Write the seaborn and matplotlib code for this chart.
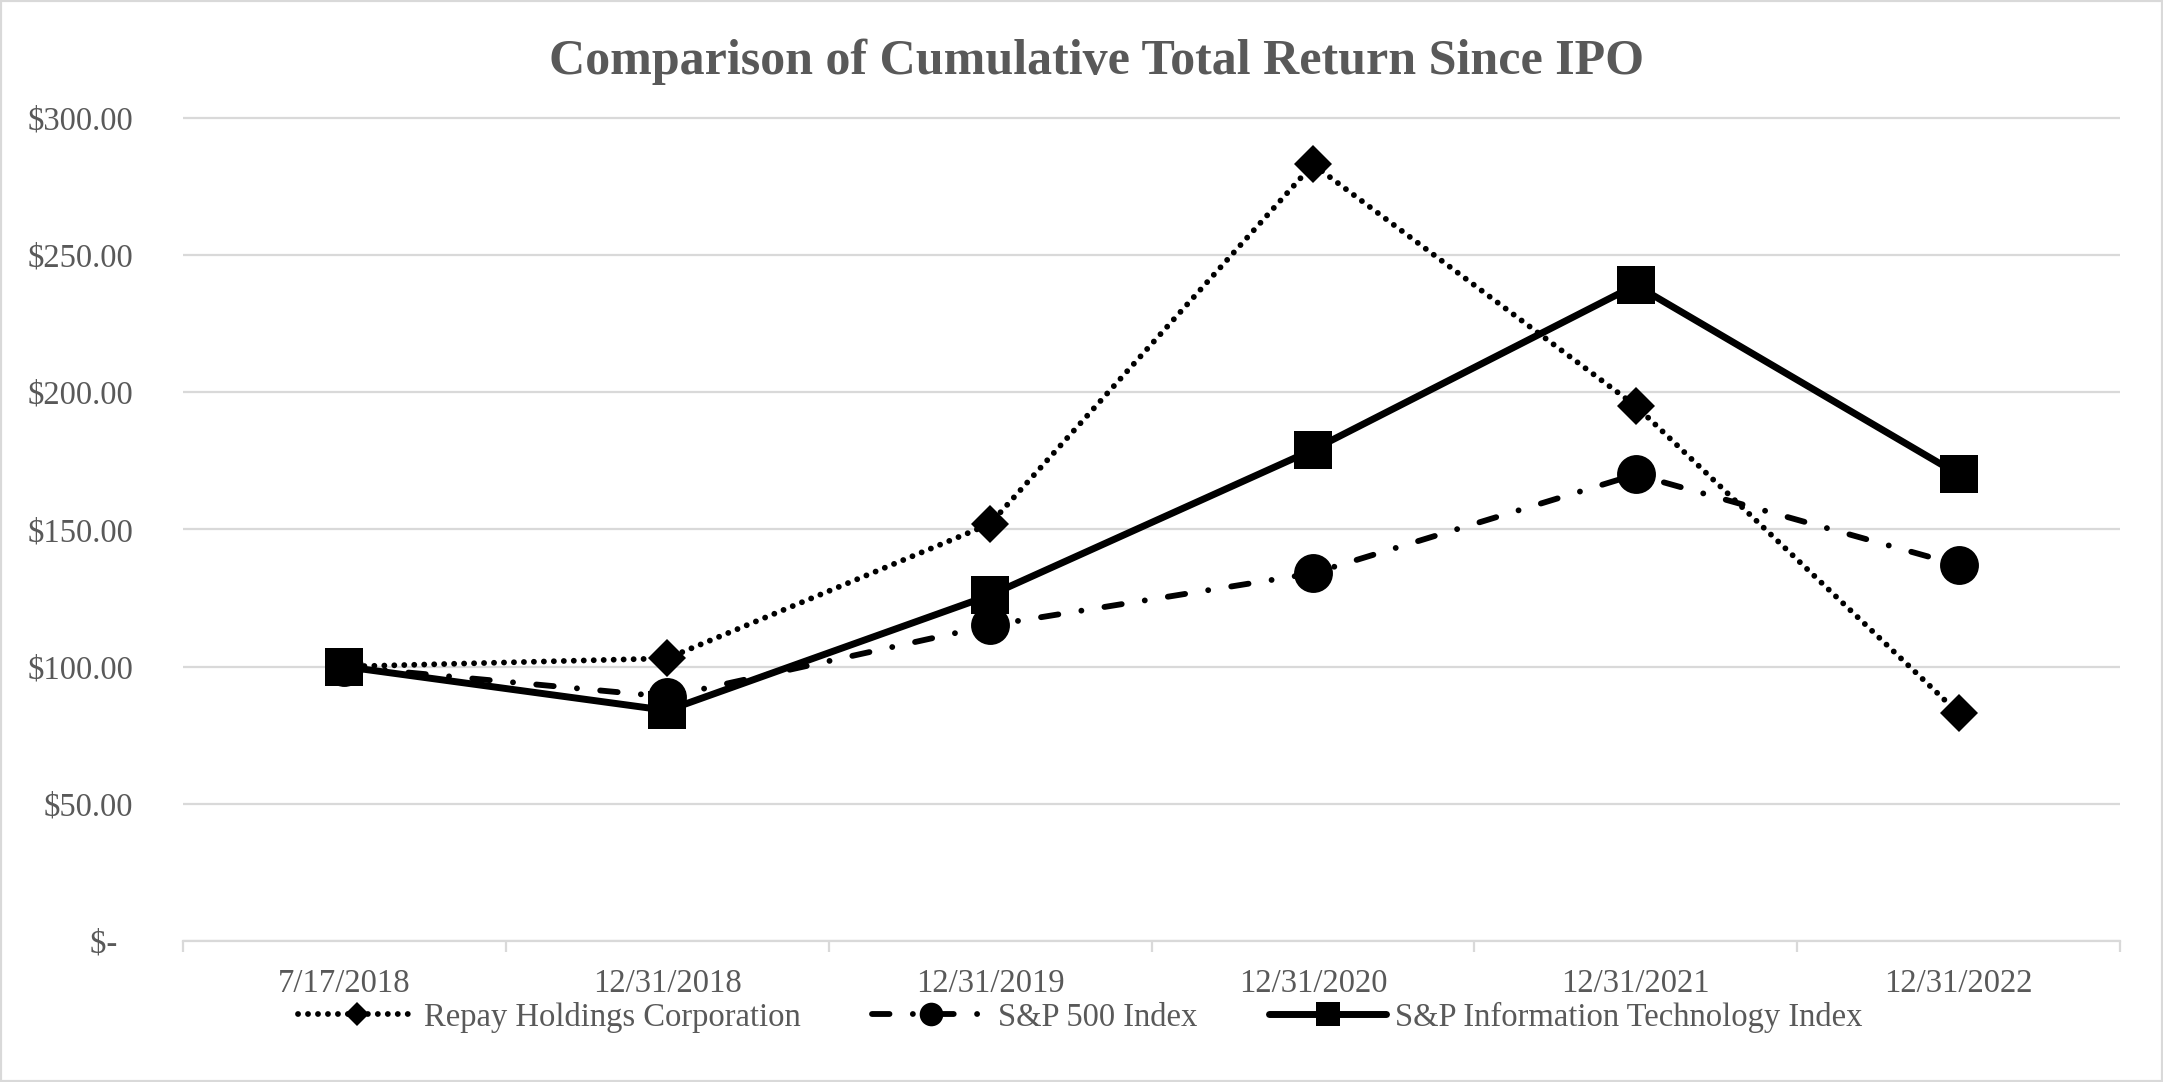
import matplotlib
matplotlib.use("Agg")
import matplotlib.pyplot as plt
import seaborn as sns
import pandas as pd
from matplotlib.lines import Line2D
from matplotlib.patches import Rectangle

# ---------------- data ----------------
dates = ["7/17/2018", "12/31/2018", "12/31/2019", "12/31/2020", "12/31/2021", "12/31/2022"]
repay = [100, 103, 152, 283, 195, 83]
sp500 = [100, 89, 115, 134, 170, 137]
sp_it = [100, 84, 126, 179, 239, 170]
series_names = ["Repay Holdings Corporation", "S&P 500 Index", "S&P Information Technology Index"]
y_ticks = [0, 50, 100, 150, 200, 250, 300]
y_tick_labels = ["$-  ", "$50.00", "$100.00", "$150.00", "$200.00", "$250.00", "$300.00"]
title = "Comparison of Cumulative Total Return Since IPO"

df = pd.DataFrame({
    "date": dates * 3,
    "value": repay + sp500 + sp_it,
    "series": [n for n in series_names for _ in dates],
})

# ---------------- style ----------------
sns.set_theme(style="white")
plt.rcParams["font.family"] = ["Liberation Serif", "DejaVu Serif"]
GRAY = "#595959"
GRID = "#d9d9d9"

W, H = 2163, 1082
fig = plt.figure(figsize=(W / 100, H / 100), dpi=100)
left, right, top, bottom = 183, 2120, 115, 941
ax = fig.add_axes([left / W, 1 - bottom / H, (right - left) / W, (bottom - top) / H])

styles = [
    dict(marker="D", ms=19, ls=(0, (0.01, 1.7)), lw=4.2, cap="round"),
    dict(marker="o", ms=28, ls=(0, (3.0, 4.0, 0.01, 4.0)), lw=4.2, cap="round"),
    dict(marker="s", ms=28, ls="-", lw=5, cap="butt"),
]

for name, st in zip(series_names, styles):
    sub = df[df["series"] == name]
    sns.lineplot(data=sub, x="date", y="value", ax=ax, color="black", sort=False,
                 legend=False, marker=st["marker"], markersize=st["ms"],
                 markeredgewidth=0, linewidth=st["lw"])
    ln = ax.lines[-1]
    ln.set_linestyle(st["ls"])
    ln.set_dash_capstyle(st["cap"])
    ln.set_solid_capstyle("butt")

ax.set_xlim(-0.5, len(dates) - 0.5)
ax.set_ylim(0, 301)
ax.set_yticks(y_ticks)
ax.set_yticklabels(y_tick_labels)
ax.set_xticks(range(len(dates)))
ax.set_xticklabels(dates)
ax.set_xticks([i - 0.5 for i in range(len(dates) + 1)], minor=True)
ax.set_xlabel("")
ax.set_ylabel("")

ax.yaxis.grid(True, color=GRID, lw=1.6)
ax.xaxis.grid(False)
for s in ["left", "top", "right"]:
    ax.spines[s].set_visible(False)
ax.spines["bottom"].set_color(GRID)
ax.spines["bottom"].set_linewidth(1.6)

ax.tick_params(axis="y", length=0, pad=36, labelsize=23.5, labelcolor=GRAY)
ax.tick_params(axis="x", which="major", length=0, pad=20, labelsize=23.5, labelcolor=GRAY)
ax.tick_params(axis="x", which="minor", length=8, width=1.6, color=GRID, bottom=True)

fig.text(1097 / W, 1 - 62 / H, title, ha="center", va="center", fontsize=36,
         fontweight="bold", color=GRAY)

handles = []
leg_ms = [12, 17, 17]
for st, ms in zip(styles, leg_ms):
    h = Line2D([0], [0], color="black", marker=st["marker"], markersize=ms,
               markeredgewidth=0, linewidth=st["lw"], linestyle=st["ls"],
               dash_capstyle=st["cap"])
    handles.append(h)
leg = fig.legend(handles, series_names, loc="center", bbox_to_anchor=(1080 / W, 1 - 1017 / H),
                 ncol=3, frameon=False, fontsize=23.5, handlelength=3.6,
                 handletextpad=0.25, columnspacing=2.2)
for t in leg.get_texts():
    t.set_color(GRAY)

fig.add_artist(Rectangle((0, 0), 1, 1, transform=fig.transFigure, fill=False,
                         edgecolor=GRID, lw=3))

fig.savefig("out.png", dpi=100)
